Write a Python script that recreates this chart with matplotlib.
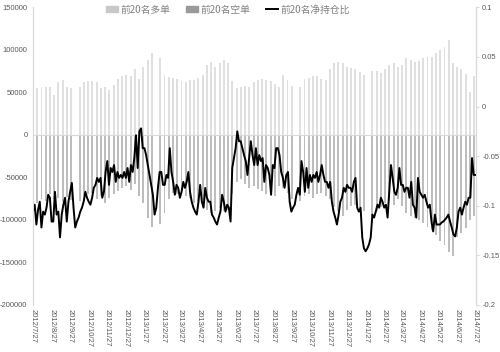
import numpy as np
import pandas as pd
import matplotlib
matplotlib.use('Agg')
import matplotlib.pyplot as plt
from matplotlib.lines import Line2D
from matplotlib.patches import Patch

plt.rcParams['font.family'] = ['Noto Sans CJK SC', 'DejaVu Sans']
plt.rcParams['axes.unicode_minus'] = False

# 周度数据（每周五），节假日周为空
week_start = '2012-07-27'
week_end = '2014-07-25'
long_vol = [58000, 55000, 56000, 56000, 56000, 47000, 62000, 65000, 56000, 55000, np.nan,
            56000, 62000, 63000, 63000, 62000, 55000, 56000, 53000, 59000, 66000,
            69000, 71000, 69000, 78000, 66000, 80000, 88000, 96000, np.nan,
            90000, 71000, 68000, 67000, 66000, 63000, 62000, 64000, 64000, 67000, 70000,
            82000, 86000, 80000, 84000, 88000, 84000, 63000,
            55000, 56000, 58000, 56000, 62000, 64000, 66000, 65000, 63000, 60000, 56000, 70000, 64000, 57000,
            np.nan,
            56000, 66000, 67000, 69000, 69000, 66000, 64000, 77000, 84000, 86000, 84000, 80000, 79000, 77000,
            74000, 71000,
            np.nan,
            75000, 75000, 73000, 77000, 82000, 84000, 80000, 82000, 90000, 88000, 86000, 87000, 90000,
            92000, 92000, 96000, 100000, 103000, 112000, 84000, 80000, 77000, 72000, 50000, 69000]
short_vol = [-72000, -80000, -75000, -78000, -70000, -76000, -74000, -79000, -73000, -77000, np.nan,
             -78000, -72000, -70000, -68000, -75000, -72000, -80000, -74000, -70000, -66000,
             -62000, -60000, -65000, -58000, -72000, -80000, -98000, -108000, np.nan,
             -105000, -92000, -75000, -68000, -70000, -65000, -72000, -74000, -80000, -78000, -85000,
             -88000, -92000, -90000, -86000, -90000, -88000, -70000,
             -55000, -52000, -58000, -62000, -60000, -64000, -66000, -70000, -68000, -72000, -60000,
             -62000, -68000, -75000,
             np.nan,
             -78000, -72000, -70000, -74000, -70000, -68000, -72000, -76000, -85000, -90000, -95000,
             -88000, -84000, -82000, -86000, -90000,
             np.nan,
             -95000, -90000, -85000, -80000, -78000, -82000, -76000, -84000, -92000, -95000, -98000,
             -100000, -104000, -108000, -112000, -118000, -125000, -130000, -138000, -142000,
             -120000, -115000, -110000, -100000, -95000]

# 净持仓比（右轴）
net_ratio = [-0.106, -0.099, -0.119, -0.104, -0.096, -0.122, -0.106, -0.109, -0.102, -0.089,
             -0.092, -0.116, -0.116, -0.086, -0.109, -0.106, -0.132, -0.109, -0.099, -0.092,
             -0.116, -0.096, -0.086, -0.077, -0.102, -0.122, -0.116, -0.112, -0.106, -0.102,
             -0.096, -0.086, -0.092, -0.096, -0.099, -0.092, -0.082, -0.079, -0.072, -0.076,
             -0.072,
             -0.092, -0.086, -0.066, -0.055, -0.079, -0.062, -0.066, -0.059, -0.076, -0.066,
             -0.072, -0.069, -0.072, -0.066, -0.072, -0.062, -0.076, -0.059, -0.066, -0.052,
             -0.029, -0.062, -0.025, -0.022, -0.042, -0.042, -0.049, -0.059, -0.069, -0.079,
             -0.089, -0.109, -0.102, -0.082, -0.066, -0.066, -0.079, -0.079, -0.069, -0.072,
             -0.042, -0.066, -0.076, -0.089, -0.079,
             -0.082, -0.092, -0.086, -0.076, -0.082, -0.076, -0.066, -0.086, -0.096, -0.102,
             -0.106, -0.109, -0.096, -0.079, -0.096, -0.102, -0.082, -0.092, -0.096, -0.096,
             -0.109, -0.112, -0.116, -0.119, -0.112, -0.106, -0.089, -0.096, -0.106, -0.099,
             -0.102, -0.116, -0.062, -0.052, -0.042, -0.025, -0.035, -0.035, -0.042, -0.049,
             -0.055, -0.069, -0.052, -0.035, -0.049, -0.059,
             -0.042, -0.059, -0.049, -0.055, -0.052, -0.076, -0.059, -0.062, -0.069, -0.089,
             -0.059, -0.062, -0.042, -0.042, -0.049, -0.066, -0.072, -0.082, -0.069, -0.066,
             -0.096, -0.106, -0.102, -0.099, -0.089, -0.082, -0.089, -0.055, -0.066, -0.086,
             -0.062, -0.082, -0.069, -0.076, -0.069, -0.072, -0.066, -0.076, -0.069, -0.059,
             -0.069, -0.076, -0.076, -0.082, -0.076,
             -0.096, -0.106, -0.112, -0.119, -0.109, -0.096, -0.092, -0.082, -0.086, -0.079,
             -0.082, -0.082, -0.086, -0.076, -0.072, -0.102, -0.106, -0.102, -0.132, -0.143,
             -0.146, -0.143, -0.139, -0.132, -0.109, -0.112, -0.106, -0.099, -0.102, -0.092,
             -0.096, -0.102, -0.099, -0.112, -0.086, -0.059, -0.072, -0.086, -0.089, -0.082,
             -0.062, -0.079, -0.079, -0.086, -0.082,
             -0.082, -0.092, -0.076, -0.099, -0.102, -0.112, -0.072, -0.086, -0.089, -0.092,
             -0.089, -0.096, -0.102, -0.099, -0.116, -0.126, -0.109, -0.119, -0.119, -0.119,
             -0.117, -0.116, -0.114, -0.112, -0.109, -0.116, -0.122, -0.129, -0.131, -0.122,
             -0.106, -0.102, -0.109, -0.102, -0.096, -0.099, -0.092, -0.092, -0.052, -0.069,
             -0.069]

legend_labels = ['前20名多单', '前20名空单', '前20名净持仓比']

weeks = pd.date_range(week_start, week_end, freq='W-FRI')
line_dates = pd.date_range(week_start, '2014-07-27', periods=len(net_ratio))
tick_dates = pd.date_range('2012-07-27', periods=25, freq=pd.DateOffset(months=1))
tick_labels = [f'{d.year}/{d.month}/{d.day}' for d in tick_dates]

c_long = '#e0e0e0'
c_short = '#bdbdbd'
c_text = '#595959'

fig = plt.figure(figsize=(5, 3.52), dpi=100)
ax = fig.add_axes([0.066, 0.134, 0.886, 0.845])
ax2 = ax.twinx()

ax.bar(weeks, long_vol, width=3.2, color=c_long, linewidth=0)
ax.bar(weeks, short_vol, width=3.2, color=c_short, linewidth=0)
ax.axhline(0, color='#d9d9d9', lw=0.8)
ax2.plot(line_dates, net_ratio, color='black', lw=1.4)

ax.set_ylim(-200000, 150000)
ax.set_yticks(np.arange(-200000, 150001, 50000))
ax2.set_ylim(-0.2, 0.1)
ax2.set_yticks([0.1, 0.05, 0, -0.05, -0.1, -0.15, -0.2])
ax2.set_yticklabels(['0.1', '0.05', '0', '-0.05', '-0.1', '-0.15', '-0.2'])
ax.set_xlim(pd.Timestamp('2012-07-27'), pd.Timestamp('2014-07-28'))
ax.set_xticks(tick_dates)
ax.set_xticklabels(tick_labels, rotation=-90, fontsize=5.5, color=c_text, family='Liberation Sans')

for a in (ax, ax2):
    for s in ('top', 'bottom'):
        a.spines[s].set_visible(False)
    a.spines['left'].set_color('#d9d9d9')
    a.spines['right'].set_color('#d9d9d9')
ax.tick_params(axis='y', length=0, labelsize=5.5, labelcolor=c_text, pad=4)
ax.tick_params(axis='x', length=0, pad=3)
ax2.tick_params(axis='y', length=2.5, color='#d9d9d9', labelsize=5.5, labelcolor=c_text, pad=2)
for t in ax.get_yticklabels() + ax2.get_yticklabels():
    t.set_family('Liberation Sans')

handles = [Patch(color='#c8c8c8'), Patch(color='#9a9a9a'), Line2D([], [], color='black', lw=1.4)]
fig.legend(handles, legend_labels, loc='upper center', bbox_to_anchor=(0.455, 1.012), ncol=3,
           frameon=False, fontsize=7, labelcolor='#808080', handlelength=1.3, handleheight=0.6,
           handletextpad=0.2, columnspacing=1.6)

fig.savefig('out.png', dpi=100)
